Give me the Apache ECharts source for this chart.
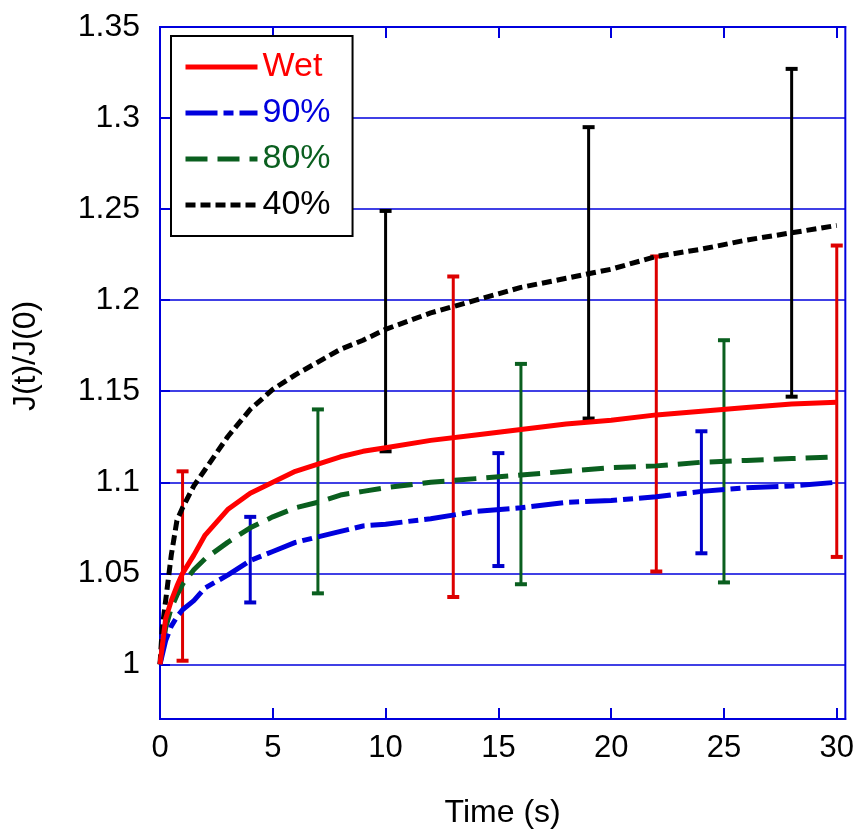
<!DOCTYPE html>
<html><head><meta charset="utf-8">
<script src="https://cdn.jsdelivr.net/npm/echarts@6/dist/echarts.min.js"></script>
<style>html,body{margin:0;padding:0;background:#fff}#c{width:857px;height:840px}</style>
</head><body><div id="c"></div>
<script>
// Tick labels
const xTicks = [0, 5, 10, 15, 20, 25, 30];
const yTicks = [1, 1.05, 1.1, 1.15, 1.2, 1.25, 1.3, 1.35];

// Curves (time s, J(t)/J(0))
const wetT = [0, 0.25, 0.5, 0.75, 1, 1.5, 2, 3, 4, 5, 6, 7, 8, 9, 10, 12, 14, 16, 18, 20, 22, 24, 26, 28, 30];
const wetV = [1.000, 1.025, 1.035, 1.043, 1.050, 1.060, 1.071, 1.085, 1.094, 1.100, 1.106, 1.110, 1.114, 1.117, 1.119, 1.123, 1.126, 1.129, 1.132, 1.134, 1.137, 1.139, 1.141, 1.143, 1.144];

const rh90T = [0, 0.25, 0.5, 0.75, 1, 1.5, 2, 3, 4, 5, 6, 7, 8, 9, 10, 12, 14, 16, 18, 20, 22, 24, 26, 28, 30];
const rh90V = [1.000, 1.013, 1.021, 1.026, 1.030, 1.035, 1.042, 1.049, 1.057, 1.062, 1.067, 1.070, 1.073, 1.076, 1.077, 1.080, 1.084, 1.086, 1.089, 1.090, 1.092, 1.095, 1.097, 1.098, 1.100];

const rh80T = [0, 0.25, 0.5, 0.75, 1, 1.5, 2, 3, 4, 5, 6, 7, 8, 9, 10, 12, 14, 16, 18, 20, 22, 24, 26, 28, 30];
const rh80V = [1.000, 1.020, 1.031, 1.038, 1.044, 1.052, 1.058, 1.067, 1.075, 1.081, 1.086, 1.089, 1.093, 1.095, 1.097, 1.100, 1.102, 1.104, 1.106, 1.108, 1.109, 1.111, 1.112, 1.113, 1.114];

const rh40T = [0, 0.1, 0.25, 0.5, 0.75, 1, 1.5, 2, 3, 4, 5, 6, 7, 8, 9, 10, 12, 14, 16, 18, 20, 22, 24, 26, 28, 30];
const rh40V = [1.000, 1.020, 1.035, 1.060, 1.079, 1.086, 1.098, 1.107, 1.125, 1.140, 1.151, 1.159, 1.166, 1.173, 1.178, 1.184, 1.193, 1.200, 1.207, 1.212, 1.217, 1.224, 1.228, 1.233, 1.237, 1.241];

// Error bars: x, low, high
const wetErrX = [1, 13, 22, 30];
const wetErrLo = [1.002, 1.037, 1.051, 1.059];
const wetErrHi = [1.106, 1.213, 1.224, 1.230];

const rh90ErrX = [4, 15, 24];
const rh90ErrLo = [1.034, 1.054, 1.061];
const rh90ErrHi = [1.081, 1.116, 1.128];

const rh80ErrX = [7, 16, 25];
const rh80ErrLo = [1.039, 1.044, 1.045];
const rh80ErrHi = [1.140, 1.165, 1.178];

const rh40ErrX = [10, 19, 28];
const rh40ErrLo = [1.117, 1.135, 1.147];
const rh40ErrHi = [1.249, 1.295, 1.327];

const FONT = "'Liberation Sans', Arial, Helvetica, sans-serif";
const AXIS_BLUE = '#0000dd';

function zip(a, b) { return a.map((v, i) => [v, b[i]]); }
function zip3(a, b, c) { return a.map((v, i) => [v, b[i], c[i]]); }

function errSeries(name, color, xs, lo, hi) {
  return {
    type: 'custom', name: name, z: 1, silent: true,
    data: zip3(xs, lo, hi),
    encode: { x: 0, y: [1, 2] },
    renderItem: function (params, api) {
      const x = api.value(0), l = api.value(1), h = api.value(2);
      const pL = api.coord([x, l]), pH = api.coord([x, h]);
      const hw = 6;
      return {
        type: 'group', children: [
          { type: 'line', shape: { x1: pL[0], y1: pL[1], x2: pH[0], y2: pH[1] }, style: { stroke: color, lineWidth: 3 } },
          { type: 'line', shape: { x1: pL[0] - hw, y1: pL[1], x2: pL[0] + hw, y2: pL[1] }, style: { stroke: color, lineWidth: 4 } },
          { type: 'line', shape: { x1: pH[0] - hw, y1: pH[1], x2: pH[0] + hw, y2: pH[1] }, style: { stroke: color, lineWidth: 4 } }
        ]
      };
    }
  };
}

function lineSeries(name, color, t, v, dash) {
  return {
    type: 'line', name: name, z: 3, symbol: 'none', smooth: false,
    data: zip(t, v),
    lineStyle: { color: color, width: 5, type: dash, cap: 'butt' },
    itemStyle: { color: color },
    emphasis: { disabled: true }
  };
}

const chart = echarts.init(document.getElementById('c'), null, { renderer: 'canvas' });
chart.setOption({
  animation: false,
  backgroundColor: '#fff',
  grid: { left: 160, right: 11, top: 27, bottom: 121, show: true, borderColor: AXIS_BLUE, borderWidth: 2, backgroundColor: 'transparent' },
  legend: {
    data: [
      { name: 'Wet', textStyle: { color: '#ff0000' } },
      { name: '90%', textStyle: { color: '#0000dd' } },
      { name: '80%', textStyle: { color: '#0a5f1f' } },
      { name: '40%', textStyle: { color: '#000000' } }
    ],
    orient: 'vertical', left: 171, top: 36,
    padding: [14, 22, 14, 12], itemGap: 12, itemWidth: 72, itemHeight: 14,
    borderColor: '#000', borderWidth: 2, backgroundColor: '#fff',
    selectedMode: false,
    itemStyle: { opacity: 0 },
    lineStyle: { width: 5 },
    textStyle: { fontSize: 34, fontFamily: FONT }
  },
  xAxis: [{
    type: 'value', min: 0, max: 30.38, position: 'bottom',
    name: 'Time (s)', nameLocation: 'middle', nameGap: 78,
    nameTextStyle: { fontSize: 32, fontFamily: FONT, color: '#000' },
    axisLine: { show: true, lineStyle: { color: AXIS_BLUE, width: 2 } },
    axisTick: { show: true, inside: true, length: 11, customValues: xTicks, lineStyle: { color: AXIS_BLUE, width: 2 } },
    axisLabel: { show: true, customValues: xTicks, margin: 14, fontSize: 31, fontFamily: FONT, color: '#000' },
    splitLine: { show: false }
  }, {
    type: 'value', min: 0, max: 30.38, position: 'top',
    axisLine: { show: true, lineStyle: { color: AXIS_BLUE, width: 2 } },
    axisTick: { show: true, inside: true, length: 11, customValues: xTicks, lineStyle: { color: AXIS_BLUE, width: 2 } },
    axisLabel: { show: false },
    splitLine: { show: false }
  }],
  yAxis: [{
    type: 'value', min: 0.97, max: 1.35,
    name: 'J(t)/J(0)', nameLocation: 'middle', nameGap: 118, nameRotate: 90,
    nameTextStyle: { fontSize: 32, fontFamily: FONT, color: '#000', padding: [0, 0, 0, 34] },
    axisLine: { show: true, lineStyle: { color: AXIS_BLUE, width: 2 } },
    axisTick: { show: true, inside: true, length: 10, customValues: yTicks, lineStyle: { color: AXIS_BLUE, width: 2 } },
    axisLabel: { show: true, customValues: yTicks, margin: 20, fontSize: 32, fontFamily: FONT, color: '#000',
      formatter: v => String(+v.toFixed(2)) },
    splitLine: { show: true, lineStyle: { color: AXIS_BLUE, width: 1.5 } }
  }],
  series: [
    errSeries('Wet err', '#dd0000', wetErrX, wetErrLo, wetErrHi),
    errSeries('90% err', '#0000cc', rh90ErrX, rh90ErrLo, rh90ErrHi),
    errSeries('80% err', '#0a5f1f', rh80ErrX, rh80ErrLo, rh80ErrHi),
    errSeries('40% err', '#000000', rh40ErrX, rh40ErrLo, rh40ErrHi),
    lineSeries('40%', '#000000', rh40T, rh40V, [10, 5]),
    lineSeries('80%', '#0a5f1f', rh80T, rh80V, [22, 10]),
    lineSeries('90%', '#0000dd', rh90T, rh90V, [32, 6, 10, 6]),
    lineSeries('Wet', '#ff0000', wetT, wetV, 'solid')
  ]
});
</script>
</body></html>
